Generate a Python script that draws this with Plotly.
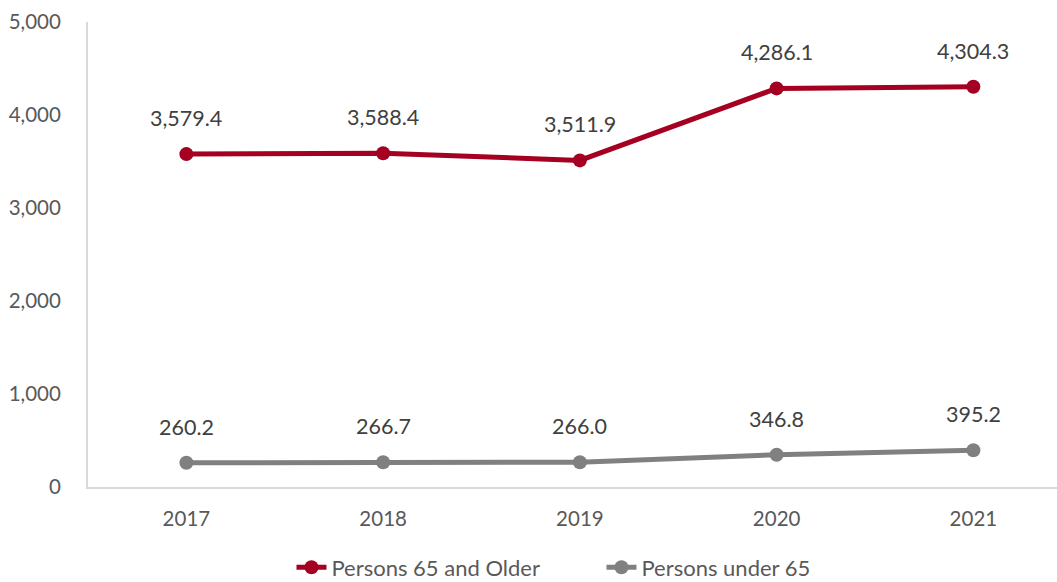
import plotly.graph_objects as go

years = ["2017", "2018", "2019", "2020", "2021"]
older = [3579.4, 3588.4, 3511.9, 4286.1, 4304.3]
under = [260.2, 266.7, 266.0, 346.8, 395.2]
y_ticks = [0, 1000, 2000, 3000, 4000, 5000]

RED = "#A50021"
GRAY = "#808080"
FONT = "Lato"
FS = 20.5

fig = go.Figure()
fig.add_trace(go.Scatter(x=years, y=older, name="Persons 65 and Older", mode="lines+markers",
                         line=dict(color=RED, width=5), marker=dict(size=14, color=RED)))
fig.add_trace(go.Scatter(x=years, y=under, name="Persons under 65", mode="lines+markers",
                         line=dict(color=GRAY, width=5), marker=dict(size=14, color=GRAY)))

anns = []
for series in (older, under):
    for i, v in enumerate(series):
        anns.append(dict(x=i, y=v, xref="x", yref="y", text=f"{v:,.1f}", showarrow=False,
                         yshift=36, font=dict(family=FONT, size=21.5, color="#404040")))

fig.update_layout(
    width=1057, height=582,
    margin=dict(l=88, r=0, t=22, b=95),
    plot_bgcolor="white", paper_bgcolor="white",
    font=dict(family=FONT, size=FS, color="#595959"),
    annotations=anns,
    showlegend=True,
    legend=dict(orientation="h", x=0.21, xanchor="left", yref="container", y=0.025,
                yanchor="middle", entrywidth=265,
                font=dict(family=FONT, size=22, color="#595959")),
    xaxis=dict(type="category", range=[-0.5, 4.425], showgrid=False, showline=True,
               linecolor="#D9D9D9", linewidth=2, ticks="", ticklabelstandoff=12,
               automargin=False, tickfont=dict(family=FONT, size=FS, color="#595959")),
    yaxis=dict(range=[0, 5000], tickvals=y_ticks, tickformat=",", showgrid=False,
               showline=True, linecolor="#D9D9D9", linewidth=2, ticks="", zeroline=False,
               ticklabelstandoff=21, automargin=False,
               tickfont=dict(family=FONT, size=FS, color="#595959")),
)

fig.write_html("out.html", config={"displayModeBar": False},
               post_script="document.body.style.margin='0';document.body.style.overflow='hidden';")
